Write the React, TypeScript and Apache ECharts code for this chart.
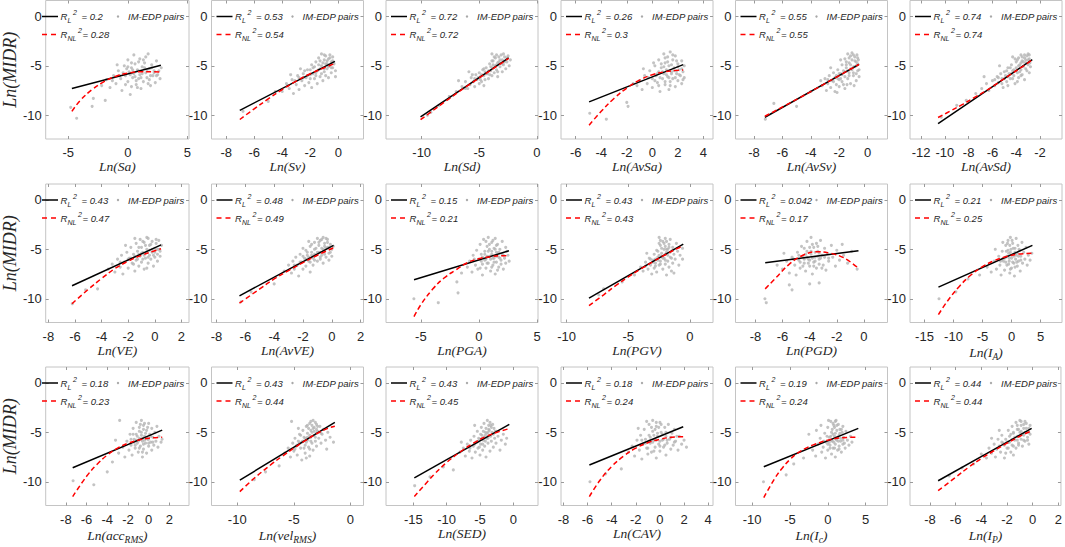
import React, { useEffect, useRef } from "react";
import * as echarts from "echarts";

// ---------- data ----------
const xNames: [string, string][] = [
  ["Sa", ""], ["Sv", ""], ["Sd", ""], ["AvSa", ""], ["AvSv", ""], ["AvSd", ""],
  ["VE", ""], ["AvVE", ""], ["PGA", ""], ["PGV", ""], ["PGD", ""], ["I", "A"],
  ["acc", "RMS"], ["vel", "RMS"], ["SED", ""], ["CAV", ""], ["I", "c"], ["I", "P"],
];
const yName = "Ln(MIDR)";
const rL2 = ["0.2", "0.53", "0.72", "0.26", "0.55", "0.74", "0.43", "0.48", "0.15", "0.43", "0.042", "0.21", "0.18", "0.43", "0.43", "0.18", "0.19", "0.44"];
const rNL2 = ["0.28", "0.54", "0.72", "0.3", "0.55", "0.74", "0.47", "0.49", "0.21", "0.43", "0.17", "0.25", "0.23", "0.44", "0.45", "0.24", "0.24", "0.44"];

const xTicks: number[][] = [
  [-5, 0, 5], [-8, -6, -4, -2, 0], [-10, -5, 0], [-6, -4, -2, 0, 2, 4], [-8, -6, -4, -2, 0], [-12, -10, -8, -6, -4, -2],
  [-8, -6, -4, -2, 0, 2], [-8, -6, -4, -2, 0, 2], [-5, 0, 5], [-10, -5, 0], [-8, -6, -4, -2, 0], [-15, -10, -5, 0, 5],
  [-8, -6, -4, -2, 0, 2], [-10, -5, 0], [-15, -10, -5, 0], [-8, -6, -4, -2, 0, 2, 4], [-10, -5, 0, 5], [-8, -6, -4, -2, 0, 2],
];
const xLims: [number, number][] = [
  [-6.9, 5.13], [-9.05, 1.8], [-13.1, 0.1], [-7.15, 4.75], [-9.3, 1.4], [-12.93, -0.15],
  [-8.2, 2.57], [-8.35, 2.2], [-8.0, 5.08], [-10.46, 1.87], [-9.47, 1.74], [-17.5, 8.7],
  [-9.95, 3.9], [-12.27, 1.15], [-19.1, 3.7], [-8.2, 4.4], [-12.2, 7.9], [-9.55, 2.2],
];
const yTicks = [-10, -5, 0];
const yLim: [number, number] = [-12.4, 1.6];

// linear fits (endpoints)
const linSa = [[-4.7, -7.3], [2.77, -4.95]];
const linSv = [[-7.03, -9.5], [-0.24, -4.55]];
const linSd = [[-10.1, -10.17], [-2.45, -4.2]];
const linAvSa = [[-4.95, -8.65], [2.42, -4.88]];
const linAvSv = [[-7.23, -10.2], [-0.6, -4.85]];
const linAvSd = [[-10.57, -10.85], [-2.65, -4.38]];
const linVE = [[-6.22, -8.69], [0.47, -4.55]];
const linAvVE = [[-6.41, -9.7], [0.12, -4.6]];
const linPGA = [[-5.59, -8.08], [2.58, -5.15]];
const linPGV = [[-8.19, -9.93], [-0.54, -4.48]];
const linPGD = [[-7.28, -6.35], [-0.4, -5.15]];
const linIA = [[-12.6, -8.82], [3.6, -4.6]];
const linAcc = [[-7.34, -8.59], [1.31, -4.78]];
const linVel = [[-9.77, -9.83], [-1.38, -4.0]];
const linSED = [[-14.85, -9.6], [-0.6, -4.2]];
const linCAV = [[-5.85, -8.3], [1.93, -4.44]];
const linIc = [[-8.46, -8.48], [4.04, -4.6]];
const linIP = [[-7.36, -9.9], [-0.08, -4.6]];

// nonlinear fits
const nlSa = [[-4.7, -9.6], [-4, -8.5], [-3, -7.4], [-2, -6.6], [-1, -6.05], [0, -5.75], [1, -5.6], [2, -5.6], [2.77, -5.65]];
const nlSv = [[-7.03, -10.43], [-6, -9.35], [-5, -8.35], [-4, -7.4], [-3, -6.55], [-2, -5.8], [-1, -5.2], [-0.3, -4.8]];
const nlSd = [[-10.1, -10.45], [-8, -8.65], [-6, -7.0], [-4, -5.45], [-2.45, -4.25]];
const nlAvSa = [[-4.95, -11.0], [-4, -9.6], [-3, -8.3], [-2, -7.25], [-1, -6.45], [0, -5.9], [1, -5.6], [2, -5.45], [2.42, -5.42]];
const nlAvSv = [[-7.23, -10.1], [-5, -8.4], [-3, -6.8], [-0.6, -4.85]];
const nlAvSd = [[-10.57, -10.23], [-9.5, -9.55], [-8.5, -8.9], [-7.5, -8.2], [-6.5, -7.5], [-5.5, -6.7], [-4.5, -5.9], [-3.5, -5.1], [-2.65, -4.4]];
const nlVE = [[-6.22, -10.5], [-5, -9.05], [-4, -7.95], [-3, -6.95], [-2, -6.2], [-1, -5.6], [0, -5.15], [0.47, -4.95]];
const nlAvVE = [[-6.41, -10.45], [-5, -9.0], [-4, -8.0], [-3, -7.15], [-2, -6.35], [-1, -5.6], [0.12, -4.85]];
const nlPGA = [[-5.59, -11.8], [-5, -10.6], [-4, -9.05], [-3, -7.9], [-2, -7.1], [-1, -6.35], [0, -5.95], [1, -5.75], [2, -5.65], [2.58, -5.68]];
const nlPGV = [[-8.19, -10.7], [-7, -9.6], [-6, -8.65], [-5, -7.8], [-4, -7.0], [-3, -6.25], [-2, -5.55], [-1, -4.9], [-0.54, -4.65]];
const nlPGD = [[-7.28, -9.0], [-6.5, -7.9], [-5.5, -6.5], [-4.5, -5.6], [-3.5, -5.25], [-2.5, -5.4], [-1.5, -5.85], [-0.5, -6.8]];
const nlIA = [[-12.6, -11.6], [-11, -10.2], [-9, -8.75], [-7, -7.6], [-5, -6.75], [-3, -6.15], [-1, -5.75], [1, -5.5], [3.6, -5.4]];
const nlAcc = [[-7.34, -11.5], [-6, -9.45], [-5, -8.25], [-4, -7.3], [-3, -6.6], [-2, -6.1], [-1, -5.8], [0, -5.6], [1.31, -5.5]];
const nlVel = [[-9.77, -11.0], [-8.5, -9.65], [-7, -8.25], [-6, -7.4], [-5, -6.6], [-4, -5.85], [-3, -5.15], [-2, -4.6], [-1.38, -4.38]];
const nlSED = [[-14.85, -11.5], [-12, -9.35], [-10, -8.05], [-8, -7.0], [-6, -6.1], [-4, -5.4], [-2, -4.9], [-0.7, -4.65]];
const nlCAV = [[-5.85, -11.5], [-5, -9.9], [-4, -8.45], [-3, -7.4], [-2, -6.6], [-1, -6.05], [0, -5.7], [1, -5.5], [1.93, -5.45]];
const nlIc = [[-8.46, -11.6], [-7, -9.65], [-6, -8.6], [-5, -7.75], [-4, -7.1], [-3, -6.65], [-2, -6.3], [0, -5.8], [2, -5.55], [4.04, -5.5]];
const nlIP = [[-7.36, -10.9], [-6, -9.55], [-5, -8.55], [-4, -7.65], [-3, -6.85], [-2, -6.1], [-1, -5.4], [-0.08, -4.85]];

// IM-EDP pairs (sampled from the clouds)
const ptsSa = [[-4.8,-9.2],[-4.3,-10.3],[-2.9,-8.3],[-3.0,-9.1],[-1.9,-8.5],[-2.2,-7.0],[-1.8,-6.4],[-1.5,-7.2],[-1.2,-6.0],[-1.0,-6.8],[-0.8,-5.5],[-0.6,-6.3],[-0.5,-7.5],[-0.3,-5.0],[-0.2,-6.0],[0,-4.4],[0,-6.6],[0.1,-5.6],[0.2,-7.9],[0.3,-5.2],[0.4,-6.2],[0.5,-3.9],[0.5,-5.8],[0.6,-4.8],[0.7,-6.9],[0.8,-5.4],[0.9,-6.3],[1.0,-4.3],[1.0,-5.9],[1.1,-7.3],[1.2,-5.1],[1.3,-6.6],[1.4,-4.7],[1.5,-5.7],[1.6,-6.2],[1.7,-3.8],[1.8,-5.3],[1.9,-7.0],[2.0,-4.9],[2.1,-6.0],[2.2,-5.5],[2.3,-6.7],[2.4,-4.5],[2.5,-5.9],[2.7,-6.3],[2.8,-5.2],[-0.9,-4.9],[0.3,-7.1],[1.5,-4.1],[-0.1,-5.3],
  [0.2,-5.9],[0.6,-6.1],[0.9,-5.5],[1.2,-5.8],[1.6,-5.4],[1.9,-6.0],[2.2,-5.7],[0.4,-5.4],[0.7,-6.5],[1.1,-6.2],[1.4,-5.2],[-0.4,-5.7],[-0.7,-6.0],[1.8,-6.4],[2.4,-6.0],[0.0,-5.1],[0.3,-4.7],[0.9,-4.6],[1.3,-4.4],[2.0,-5.2],[2.6,-5.5],[-1.3,-6.5],[-0.2,-6.9],[0.8,-7.2],[1.7,-6.8]];
const ptsSv = [[-6.8,-9.6],[-5.0,-8.6],[-4.5,-7.6],[-4.0,-7.6],[-3.7,-6.8],[-3.5,-7.3],[-3.3,-6.4],[-3.2,-7.8],[-3.0,-6.9],[-2.9,-6.0],[-2.8,-7.4],[-2.6,-6.5],[-2.5,-5.8],[-2.4,-7.0],[-2.3,-6.2],[-2.2,-5.4],[-2.1,-6.7],[-2.0,-5.9],[-1.9,-7.2],[-1.8,-5.2],[-1.7,-6.3],[-1.6,-4.6],[-1.6,-5.7],[-1.5,-6.8],[-1.4,-4.2],[-1.4,-5.4],[-1.3,-6.1],[-1.2,-3.8],[-1.2,-5.0],[-1.1,-6.5],[-1.0,-4.4],[-1.0,-5.6],[-0.9,-4.0],[-0.9,-6.0],[-0.8,-4.8],[-0.8,-5.3],[-0.7,-4.3],[-0.7,-6.2],[-0.6,-5.0],[-0.5,-4.6],[-0.5,-5.7],[-0.4,-4.1],[-0.4,-5.2],[-0.3,-4.8],[-0.2,-5.5],[-0.2,-6.1],[-2.7,-5.3],[-1.9,-4.9],[-3.4,-5.9],[-0.6,-3.9],
  [-2.5,-6.2],[-2.2,-6.0],[-2.0,-6.3],[-1.8,-5.8],[-1.6,-6.0],[-1.5,-5.5],[-1.3,-5.3],[-1.2,-5.8],[-1.0,-5.3],[-0.9,-4.8],[-0.7,-5.1],[-0.5,-5.2],[-0.8,-4.5],[-1.1,-4.7],[-1.4,-4.9],[-1.7,-5.1],[-2.4,-5.5],[-2.8,-6.2],[-3.1,-6.5],[-0.4,-4.5],[-0.6,-4.2],[-1.0,-3.9],[-1.3,-4.5],[-2.0,-5.4],[-3.6,-7.0]];
const ptsSd = [[-9.5,-10.0],[-9.2,-9.7],[-8.5,-9.0],[-7.6,-8.1],[-7.0,-7.6],[-6.5,-7.1],[-6.2,-6.6],[-6.0,-7.3],[-5.8,-6.9],[-5.7,-6.2],[-5.5,-6.6],[-5.4,-7.1],[-5.3,-5.9],[-5.2,-6.4],[-5.0,-6.8],[-5.0,-5.7],[-4.9,-6.1],[-4.8,-6.6],[-4.7,-5.4],[-4.6,-6.0],[-4.5,-6.4],[-4.4,-5.2],[-4.3,-5.8],[-4.2,-6.3],[-4.1,-4.8],[-4.0,-5.5],[-3.9,-6.0],[-3.8,-4.5],[-3.8,-5.2],[-3.7,-5.7],[-3.6,-4.2],[-3.5,-4.9],[-3.5,-5.4],[-3.4,-6.1],[-3.3,-4.6],[-3.2,-5.1],[-3.1,-3.9],[-3.0,-4.4],[-3.0,-5.6],[-2.9,-4.9],[-2.8,-4.1],[-2.7,-5.3],[-2.6,-4.6],[-2.5,-4.0],[-2.4,-5.0],[-2.3,-4.4],[-4.6,-7.0],[-3.9,-3.8],[-6.8,-6.5],[-5.9,-5.6],
  [-4.8,-5.9],[-4.5,-5.6],[-4.2,-5.5],[-4.0,-5.1],[-3.8,-4.9],[-3.6,-5.0],[-3.4,-4.7],[-3.2,-4.4],[-3.0,-4.8],[-2.8,-4.6],[-4.4,-5.8],[-5.1,-6.2],[-5.4,-6.3],[-4.6,-5.3],[-3.9,-4.5],[-3.3,-4.1],[-3.7,-4.1],[-2.6,-4.2],[-4.1,-5.9],[-4.9,-6.4],[-3.5,-3.9],[-2.9,-3.8],[-3.4,-5.6],[-5.6,-5.9],[-6.2,-7.3]];
const ptsAvSa = [[-4.9,-9.8],[-3.6,-10.4],[-1.9,-9.1],[-2.0,-8.7],[-1.5,-6.8],[-1.2,-7.0],[-1.0,-6.5],[-0.8,-7.4],[-0.6,-6.0],[-0.4,-6.8],[-0.2,-5.5],[0,-6.3],[0,-7.2],[0.2,-5.0],[0.3,-6.0],[0.4,-6.7],[0.5,-4.4],[0.5,-5.6],[0.6,-7.6],[0.7,-5.2],[0.8,-6.3],[0.9,-3.8],[0.9,-5.8],[1.0,-4.7],[1.0,-6.9],[1.1,-5.4],[1.2,-4.1],[1.2,-6.1],[1.3,-5.0],[1.4,-6.6],[1.4,-3.6],[1.5,-5.6],[1.6,-4.4],[1.6,-6.3],[1.7,-5.2],[1.8,-7.1],[1.8,-4.0],[1.9,-5.8],[2.0,-4.8],[2.0,-6.5],[2.1,-5.4],[2.2,-6.0],[2.3,-4.5],[2.3,-6.8],[2.4,-5.6],[2.5,-5.0],[2.5,-6.2],[0.1,-4.7],[-0.7,-5.3],[1.3,-7.4],
  [0.4,-5.8],[0.8,-5.6],[1.1,-5.9],[1.5,-5.8],[1.9,-5.5],[2.1,-5.9],[0.6,-6.2],[1.3,-6.2],[1.7,-5.5],[2.3,-5.3],[0.9,-5.1],[1.5,-4.9],[2.0,-5.1],[1.2,-4.6],[0.7,-4.8],[1.9,-4.5],[1.0,-4.2],[1.6,-3.9],[0.2,-6.5],[1.0,-6.6],[1.8,-6.2],[2.4,-6.4],[-0.3,-6.2],[0.5,-7.0],[1.4,-7.0]];
const ptsAvSv = [[-7.2,-10.4],[-6.6,-8.8],[-5.0,-9.1],[-4.0,-7.6],[-3.2,-7.0],[-3.0,-6.3],[-2.9,-7.5],[-2.8,-6.8],[-2.7,-6.0],[-2.6,-7.2],[-2.5,-6.5],[-2.4,-5.7],[-2.3,-7.6],[-2.3,-6.2],[-2.2,-6.9],[-2.1,-5.4],[-2.0,-6.4],[-2.0,-7.1],[-1.9,-5.8],[-1.8,-4.9],[-1.8,-6.6],[-1.7,-5.5],[-1.6,-6.1],[-1.6,-7.3],[-1.5,-4.6],[-1.5,-5.2],[-1.4,-6.3],[-1.3,-4.2],[-1.3,-5.7],[-1.2,-6.8],[-1.2,-4.9],[-1.1,-5.4],[-1.0,-3.9],[-1.0,-6.0],[-0.9,-4.5],[-0.9,-5.1],[-0.8,-5.8],[-0.8,-6.5],[-0.7,-4.2],[-0.7,-4.8],[-0.6,-5.4],[-0.6,-6.1],[-2.6,-5.2],[-1.9,-4.4],[-1.1,-3.7],[-3.3,-6.5],[-0.75,-3.9],[-1.45,-6.9],[-2.15,-7.7],[-0.95,-7.0],
  [-2.2,-6.0],[-2.0,-5.8],[-1.8,-5.9],[-1.6,-5.6],[-1.4,-5.5],[-1.2,-5.3],[-1.0,-5.1],[-0.8,-5.0],[-1.5,-4.9],[-1.3,-4.7],[-1.1,-4.4],[-0.9,-4.1],[-0.8,-4.6],[-2.4,-6.6],[-1.9,-6.3],[-1.7,-6.9],[-1.3,-6.0],[-1.0,-5.7],[-0.7,-5.5],[-2.1,-6.3],[-2.8,-6.4],[-1.6,-4.3],[-1.2,-4.0],[-0.65,-4.4],[-1.4,-3.8]];
const ptsAvSd = [[-10.3,-10.2],[-9.0,-9.0],[-8.2,-8.5],[-7.4,-7.8],[-6.9,-7.3],[-6.5,-6.8],[-6.3,-7.5],[-6.0,-6.5],[-5.8,-7.0],[-5.6,-6.1],[-5.5,-6.7],[-5.3,-5.8],[-5.2,-6.3],[-5.1,-7.2],[-5.0,-5.6],[-4.9,-6.0],[-4.8,-6.6],[-4.7,-5.2],[-4.6,-5.8],[-4.5,-6.3],[-4.4,-4.9],[-4.3,-5.5],[-4.2,-6.0],[-4.1,-6.8],[-4.0,-4.6],[-4.0,-5.2],[-3.9,-5.7],[-3.8,-4.2],[-3.8,-6.2],[-3.7,-4.9],[-3.6,-5.4],[-3.6,-3.9],[-3.5,-4.5],[-3.5,-5.9],[-3.4,-5.1],[-3.3,-4.2],[-3.3,-6.4],[-3.2,-4.7],[-3.1,-5.5],[-3.0,-3.8],[-3.0,-4.9],[-2.9,-4.3],[-2.9,-5.7],[-2.8,-5.1],[-4.3,-4.1],[-5.4,-5.0],[-6.7,-6.1],[-4.7,-7.0],[-3.9,-6.6],[-3.1,-4.0],
  [-5.0,-6.3],[-4.7,-6.1],[-4.4,-5.8],[-4.2,-5.4],[-4.0,-5.5],[-3.8,-5.0],[-3.6,-4.7],[-3.4,-4.6],[-3.2,-4.4],[-3.0,-4.4],[-3.7,-5.6],[-4.5,-5.2],[-3.9,-4.4],[-3.3,-3.9],[-2.9,-3.9],[-3.5,-4.1],[-4.1,-4.3],[-4.8,-5.5],[-5.5,-6.2],[-5.2,-6.8],[-4.3,-6.3],[-3.6,-6.0],[-3.2,-5.3],[-2.85,-4.7],[-5.8,-6.4]];
const ptsVE = [[-6.2,-10.5],[-5.2,-9.1],[-4.3,-9.0],[-3.5,-7.0],[-3.2,-6.5],[-3.0,-7.3],[-2.8,-6.0],[-2.6,-6.8],[-2.5,-5.6],[-2.4,-7.5],[-2.3,-6.3],[-2.1,-5.3],[-2.0,-6.9],[-1.9,-5.9],[-1.8,-4.8],[-1.7,-6.4],[-1.6,-5.5],[-1.5,-7.2],[-1.4,-4.4],[-1.4,-6.1],[-1.3,-5.2],[-1.2,-6.7],[-1.1,-4.0],[-1.1,-5.7],[-1.0,-4.8],[-1.0,-6.3],[-0.9,-5.3],[-0.8,-7.0],[-0.8,-4.3],[-0.7,-5.9],[-0.6,-3.8],[-0.6,-5.0],[-0.5,-6.4],[-0.4,-4.6],[-0.4,-5.6],[-0.3,-6.0],[-0.2,-4.2],[-0.2,-5.3],[-0.1,-6.7],[0,-4.9],[0,-5.8],[0.1,-4.4],[0.2,-5.5],[0.2,-6.2],[0.3,-4.1],[0.3,-5.0],[0.4,-5.7],[0.5,-4.6],[-2.2,-4.6],[-1.5,-3.9],
  [-1.8,-5.9],[-1.5,-5.7],[-1.2,-5.5],[-1.0,-5.4],[-0.8,-5.6],[-0.6,-5.3],[-0.4,-5.1],[-0.2,-5.0],[0,-5.3],[0.2,-5.0],[-1.3,-6.0],[-0.9,-6.0],[-0.5,-5.8],[-0.1,-5.6],[-1.6,-6.5],[-0.7,-4.6],[-0.3,-4.5],[0.1,-4.0],[-0.9,-4.2],[-1.2,-4.8],[-0.5,-3.9],[0.4,-5.2],[-2.6,-6.3],[-2.0,-6.0],[-0.6,-6.9]];
const ptsAvVE = [[-6.3,-10.3],[-5.6,-9.3],[-4.0,-8.5],[-3.3,-7.2],[-3.0,-6.6],[-2.8,-7.4],[-2.7,-6.2],[-2.6,-7.0],[-2.5,-5.8],[-2.4,-6.6],[-2.3,-7.7],[-2.2,-5.5],[-2.1,-6.3],[-2.0,-7.0],[-1.9,-5.9],[-1.8,-5.1],[-1.8,-6.7],[-1.7,-5.6],[-1.6,-6.2],[-1.5,-4.7],[-1.5,-7.3],[-1.4,-5.3],[-1.3,-5.9],[-1.3,-6.6],[-1.2,-4.3],[-1.2,-5.0],[-1.1,-5.6],[-1.0,-6.2],[-1.0,-3.9],[-0.9,-4.6],[-0.9,-5.3],[-0.8,-6.0],[-0.8,-4.1],[-0.7,-4.9],[-0.7,-5.6],[-0.6,-3.8],[-0.6,-6.4],[-0.5,-4.4],[-0.5,-5.2],[-0.4,-5.8],[-0.3,-4.0],[-0.3,-4.8],[-0.2,-5.4],[-0.2,-6.1],[-0.1,-4.5],[0,-5.0],[0,-5.7],[0.1,-4.7],[-1.6,-4.2],[-2.0,-4.9],
  [-1.8,-6.0],[-1.6,-5.8],[-1.4,-5.6],[-1.2,-5.5],[-1.0,-5.3],[-0.8,-5.3],[-0.6,-5.0],[-0.4,-4.9],[-0.2,-4.8],[-1.1,-4.9],[-0.9,-4.3],[-0.5,-4.7],[-0.3,-4.3],[-0.7,-4.0],[-0.4,-3.9],[-1.5,-6.3],[-1.2,-6.1],[-0.8,-5.8],[-0.5,-5.5],[-2.2,-6.3],[-2.0,-5.7],[-1.7,-5.3],[-0.1,-5.3],[-1.4,-4.5],[-2.6,-6.6]];
const ptsPGA = [[-5.6,-10.0],[-3.5,-10.4],[-1.9,-8.3],[-1.5,-7.4],[-1.8,-9.4],[-1.0,-6.8],[-0.8,-6.2],[-0.6,-7.3],[-0.5,-5.6],[-0.3,-6.6],[-0.2,-5.1],[-0.1,-7.0],[0,-6.0],[0.1,-4.5],[0.2,-5.5],[0.3,-6.5],[0.3,-7.6],[0.4,-4.0],[0.5,-5.2],[0.5,-6.1],[0.6,-6.9],[0.7,-4.7],[0.7,-5.7],[0.8,-3.8],[0.8,-6.4],[0.9,-5.0],[1.0,-6.0],[1.0,-7.2],[1.1,-4.3],[1.1,-5.5],[1.2,-6.6],[1.3,-4.9],[1.3,-5.9],[1.4,-3.9],[1.4,-7.5],[1.5,-5.3],[1.5,-6.3],[1.6,-4.5],[1.7,-5.8],[1.7,-6.8],[1.8,-5.0],[1.9,-6.1],[2.0,-4.2],[2.0,-5.5],[2.1,-7.0],[2.2,-5.9],[2.3,-4.8],[2.3,-6.4],[2.5,-5.6],[2.6,-6.2],
  [0.3,-5.8],[0.6,-6.0],[0.9,-5.7],[1.2,-5.9],[1.5,-5.7],[1.8,-5.9],[2.1,-5.6],[0.5,-5.5],[0.8,-5.2],[1.1,-5.2],[1.4,-5.0],[1.7,-5.3],[0.2,-6.2],[0.7,-6.4],[1.3,-6.3],[1.9,-6.5],[0.9,-4.5],[1.2,-4.1],[0.6,-4.2],[1.5,-4.6],[2.4,-5.2],[-0.4,-6.0],[0.1,-6.9],[1.1,-6.8],[1.6,-7.1]];
const ptsPGV = [[-7.0,-9.0],[-7.4,-9.6],[-5.5,-8.3],[-4.5,-7.6],[-4.0,-6.8],[-3.8,-7.2],[-3.6,-6.3],[-3.4,-7.0],[-3.3,-5.9],[-3.2,-6.6],[-3.1,-7.5],[-3.0,-6.1],[-2.9,-5.5],[-2.9,-6.9],[-2.8,-6.4],[-2.7,-5.1],[-2.7,-7.3],[-2.6,-5.8],[-2.5,-6.6],[-2.4,-4.6],[-2.4,-6.2],[-2.3,-5.4],[-2.2,-7.0],[-2.2,-4.2],[-2.1,-5.9],[-2.0,-6.5],[-2.0,-3.9],[-1.9,-5.0],[-1.9,-7.6],[-1.8,-5.6],[-1.8,-6.2],[-1.7,-4.5],[-1.7,-6.8],[-1.6,-5.3],[-1.6,-4.0],[-1.5,-5.9],[-1.5,-7.2],[-1.4,-4.8],[-1.4,-6.4],[-1.3,-5.5],[-1.2,-6.0],[-1.1,-4.4],[-1.0,-5.2],[-0.9,-6.6],[-0.8,-5.6],[-0.6,-6.0],[-0.6,-4.9],[-2.5,-3.8],[-3.5,-5.4],[-1.3,-7.4],
  [-3.0,-6.3],[-2.8,-6.0],[-2.6,-6.1],[-2.5,-5.6],[-2.3,-5.7],[-2.2,-5.9],[-2.0,-5.5],[-1.9,-5.3],[-1.8,-5.0],[-2.1,-5.0],[-2.3,-4.9],[-2.1,-4.4],[-1.9,-4.2],[-2.4,-4.1],[-2.0,-4.7],[-2.6,-5.2],[-3.2,-6.0],[-2.8,-6.7],[-2.4,-6.5],[-2.0,-6.1],[-1.6,-5.8],[-1.4,-5.1],[-1.7,-4.8],[-2.5,-4.4],[-3.6,-6.7]];
const ptsPGD = [[-7.3,-10.0],[-7.2,-10.4],[-5.5,-8.6],[-5.3,-9.1],[-4.0,-8.5],[-3.3,-8.4],[-6.0,-7.0],[-5.7,-6.2],[-5.5,-7.4],[-5.3,-5.8],[-5.1,-6.6],[-5.0,-7.6],[-4.9,-5.3],[-4.8,-6.1],[-4.7,-6.9],[-4.6,-4.7],[-4.5,-5.7],[-4.4,-6.4],[-4.3,-7.2],[-4.2,-4.2],[-4.2,-5.2],[-4.1,-6.0],[-4.0,-6.7],[-3.9,-3.8],[-3.9,-5.5],[-3.8,-7.5],[-3.7,-4.8],[-3.7,-6.3],[-3.6,-5.8],[-3.5,-4.4],[-3.5,-6.9],[-3.4,-5.2],[-3.3,-6.0],[-3.2,-4.1],[-3.1,-5.6],[-3.0,-6.6],[-2.9,-4.9],[-2.8,-7.1],[-2.7,-5.4],[-2.6,-6.2],[-2.4,-4.6],[-2.3,-5.8],[-2.1,-6.7],[-2.0,-5.1],[-1.8,-6.1],[-1.6,-4.5],[-1.5,-5.6],[-1.2,-6.4],[-0.9,-5.2],[-0.5,-7.0],[-6.4,-6.6],[-5.9,-5.4],
  [-4.4,-6.0],[-4.2,-5.8],[-4.0,-6.1],[-3.8,-5.9],[-3.6,-6.2],[-3.4,-5.7],[-3.2,-5.9],[-4.3,-5.5],[-3.9,-5.2],[-3.6,-5.3],[-3.3,-5.4],[-4.7,-6.3],[-4.5,-6.7],[-4.1,-6.4],[-3.7,-6.7],[-3.3,-6.5],[-3.8,-4.5],[-4.0,-4.8],[-4.4,-4.9],[-3.4,-4.7],[-5.2,-6.0],[-2.9,-5.8],[-2.6,-5.9],[-4.8,-5.6],[-3.1,-6.9]];
const ptsIA = [[-12.5,-10.0],[-9.6,-9.3],[-7.5,-8.0],[-5.5,-7.6],[-4.2,-6.8],[-3.5,-7.3],[-3.0,-6.2],[-2.6,-7.0],[-2.2,-5.7],[-2.0,-6.6],[-1.8,-7.6],[-1.6,-5.2],[-1.4,-6.2],[-1.2,-7.1],[-1.0,-4.6],[-1.0,-5.8],[-0.8,-6.6],[-0.6,-4.1],[-0.5,-5.4],[-0.4,-6.2],[-0.3,-7.4],[-0.2,-3.8],[-0.1,-5.0],[0,-5.9],[0,-6.9],[0.2,-4.4],[0.3,-5.5],[0.4,-6.4],[0.5,-7.7],[0.6,-4.9],[0.7,-6.0],[0.8,-3.9],[0.9,-5.4],[1.0,-6.7],[1.1,-4.6],[1.2,-6.2],[1.4,-5.1],[1.5,-7.2],[1.6,-5.7],[1.8,-4.3],[1.9,-6.4],[2.1,-5.3],[2.3,-6.0],[2.5,-4.8],[2.7,-6.6],[2.9,-5.6],[3.2,-6.1],[3.5,-5.4],[-2.8,-5.0],[-1.5,-4.3],
  [-1.6,-6.0],[-1.2,-5.9],[-0.8,-5.7],[-0.4,-5.9],[0,-5.6],[0.4,-5.7],[0.8,-5.6],[1.2,-5.7],[-1.0,-6.3],[-0.5,-6.5],[0.2,-6.3],[0.9,-6.3],[-0.6,-5.1],[-0.2,-5.3],[0.3,-4.9],[0.6,-5.3],[-0.3,-4.6],[0.1,-4.1],[-0.9,-5.2],[1.3,-5.0],[-1.9,-6.2],[-0.2,-7.0],[0.6,-6.8],[1.6,-6.1],[-0.7,-4.4]];
const ptsAcc = [[-7.3,-9.9],[-5.3,-10.3],[-4.0,-9.0],[-3.5,-8.0],[-2.9,-7.1],[-2.5,-6.5],[-2.3,-7.5],[-2.1,-5.9],[-1.9,-6.8],[-1.8,-5.2],[-1.7,-6.3],[-1.6,-7.3],[-1.5,-4.6],[-1.4,-5.7],[-1.3,-6.6],[-1.2,-4.0],[-1.2,-5.2],[-1.1,-6.1],[-1.0,-7.0],[-0.9,-4.5],[-0.9,-5.6],[-0.8,-6.4],[-0.7,-3.8],[-0.7,-5.0],[-0.6,-5.9],[-0.6,-7.5],[-0.5,-4.3],[-0.5,-6.7],[-0.4,-5.4],[-0.3,-6.1],[-0.2,-4.8],[-0.2,-7.1],[-0.1,-5.7],[0,-4.1],[0,-6.4],[0.1,-5.2],[0.2,-6.0],[0.3,-4.6],[0.3,-6.8],[0.4,-5.5],[0.5,-6.3],[0.6,-5.0],[0.7,-5.9],[0.8,-4.4],[0.9,-6.5],[1.0,-5.4],[1.2,-6.0],[1.3,-5.7],[-2.8,-3.8],[-3.2,-5.8],
  [-1.4,-6.0],[-1.2,-5.8],[-1.0,-5.9],[-0.8,-5.7],[-0.6,-5.6],[-0.4,-5.8],[-0.2,-5.5],[0,-5.7],[0.2,-5.4],[-1.1,-5.4],[-0.7,-5.3],[-0.3,-5.1],[-0.9,-4.9],[-0.5,-4.7],[-0.4,-4.1],[-0.8,-4.2],[-1.3,-6.3],[-0.9,-6.6],[-0.5,-6.2],[0.0,-6.1],[0.4,-6.0],[-1.7,-5.7],[-0.1,-4.5],[-1.5,-5.2],[-0.6,-7.0]];
const ptsVel = [[-8.5,-9.8],[-7.5,-9.0],[-6.3,-8.4],[-5.8,-7.1],[-5.5,-6.6],[-5.3,-7.5],[-5.1,-6.1],[-5.0,-6.9],[-4.9,-5.6],[-4.8,-6.4],[-4.7,-7.3],[-4.6,-5.9],[-4.5,-5.2],[-4.4,-6.6],[-4.3,-7.8],[-4.3,-6.0],[-4.2,-4.8],[-4.1,-5.5],[-4.0,-6.3],[-4.0,-7.1],[-3.9,-4.4],[-3.8,-5.1],[-3.8,-5.8],[-3.7,-6.5],[-3.6,-4.1],[-3.6,-7.4],[-3.5,-4.8],[-3.5,-5.5],[-3.4,-6.1],[-3.3,-3.8],[-3.3,-6.8],[-3.2,-4.5],[-3.2,-5.3],[-3.1,-5.9],[-3.0,-4.2],[-3.0,-6.4],[-2.9,-4.9],[-2.8,-5.6],[-2.7,-4.4],[-2.6,-6.1],[-2.5,-5.2],[-2.4,-4.7],[-2.2,-5.8],[-2.1,-6.7],[-2.0,-5.0],[-1.8,-5.5],[-1.5,-6.0],[-5.2,-3.9],[-4.6,-4.6],[-3.9,-7.6],
  [-4.5,-6.1],[-4.2,-5.9],[-4.0,-5.6],[-3.8,-5.5],[-3.6,-5.3],[-3.4,-5.0],[-3.2,-4.9],[-3.0,-4.7],[-3.7,-4.6],[-3.4,-4.3],[-3.1,-4.0],[-3.5,-3.9],[-2.9,-4.4],[-4.4,-5.3],[-4.1,-6.6],[-3.9,-6.0],[-3.5,-5.9],[-3.1,-5.5],[-4.7,-6.3],[-3.3,-4.6],[-3.8,-4.3],[-2.6,-5.1],[-4.9,-6.7],[-3.0,-5.1],[-3.6,-6.7]];
const ptsSED = [[-14.8,-10.4],[-12.5,-9.5],[-10.5,-8.5],[-9.0,-8.8],[-8.0,-7.0],[-7.5,-6.6],[-7.2,-7.4],[-6.9,-6.2],[-6.6,-6.9],[-6.4,-5.8],[-6.2,-7.6],[-6.0,-6.4],[-5.9,-5.4],[-5.7,-7.0],[-5.6,-6.0],[-5.4,-4.9],[-5.3,-6.6],[-5.2,-5.6],[-5.0,-7.3],[-4.9,-6.2],[-4.8,-4.5],[-4.7,-5.3],[-4.6,-6.8],[-4.5,-5.8],[-4.4,-4.1],[-4.3,-6.4],[-4.2,-5.0],[-4.1,-7.5],[-4.0,-5.6],[-3.9,-3.8],[-3.8,-6.1],[-3.7,-4.7],[-3.6,-5.3],[-3.5,-6.9],[-3.4,-4.3],[-3.3,-5.9],[-3.2,-5.0],[-3.0,-6.5],[-2.9,-4.6],[-2.8,-5.6],[-2.6,-6.1],[-2.5,-4.9],[-2.3,-5.4],[-2.0,-6.8],[-1.8,-5.8],[-1.5,-5.2],[-1.2,-6.2],[-1.0,-5.6],[-5.8,-4.3],[-7.8,-6.0],
  [-5.8,-6.2],[-5.5,-6.0],[-5.2,-5.9],[-5.0,-5.7],[-4.7,-5.6],[-4.4,-5.5],[-4.2,-5.3],[-4.0,-5.1],[-3.8,-5.0],[-3.6,-4.8],[-3.3,-4.5],[-4.5,-4.9],[-4.1,-4.6],[-3.7,-4.3],[-3.5,-4.0],[-3.1,-4.2],[-5.1,-6.5],[-4.6,-6.2],[-4.2,-5.9],[-3.8,-5.6],[-3.4,-5.4],[-3.0,-5.2],[-6.5,-6.6],[-4.9,-5.2],[-2.7,-4.9]];
const ptsCAV = [[-5.8,-10.0],[-4.5,-9.2],[-3.2,-8.7],[-2.6,-7.0],[-2.3,-6.4],[-2.1,-7.4],[-1.9,-5.8],[-1.7,-6.8],[-1.6,-5.3],[-1.5,-7.7],[-1.4,-6.2],[-1.3,-4.7],[-1.2,-5.7],[-1.1,-6.6],[-1.0,-7.2],[-0.9,-4.2],[-0.9,-5.3],[-0.8,-6.1],[-0.7,-7.0],[-0.6,-3.8],[-0.6,-4.9],[-0.5,-5.8],[-0.4,-6.5],[-0.3,-4.4],[-0.3,-7.6],[-0.2,-5.4],[-0.1,-6.2],[0,-4.0],[0,-6.9],[0.1,-5.0],[0.2,-5.8],[0.3,-6.5],[0.4,-4.5],[0.5,-5.4],[0.5,-7.3],[0.6,-6.1],[0.7,-4.2],[0.8,-5.7],[0.9,-6.7],[1.0,-5.1],[1.1,-6.3],[1.2,-4.7],[1.3,-5.9],[1.5,-6.8],[1.6,-5.4],[1.8,-6.2],[2.0,-5.8],[-1.8,-4.6],[-1.1,-3.9],[2.2,-6.5],
  [-1.2,-6.1],[-0.9,-5.9],[-0.6,-6.0],[-0.3,-5.8],[0,-5.9],[0.3,-5.7],[0.6,-5.8],[0.9,-5.5],[-0.8,-5.5],[-0.5,-5.3],[-0.2,-5.1],[0.2,-5.2],[0.5,-5.0],[-0.4,-4.7],[-0.1,-4.5],[-0.3,-4.0],[0.1,-4.2],[-1.0,-6.6],[-0.5,-6.9],[0,-6.4],[0.4,-6.3],[1.2,-6.0],[-1.5,-5.8],[-0.7,-4.5],[1.4,-5.4]];
const ptsIc = [[-8.5,-10.0],[-5.5,-9.3],[-4.5,-8.2],[-3.2,-7.6],[-2.0,-6.8],[-1.6,-7.4],[-1.3,-6.2],[-1.0,-5.6],[-0.8,-7.0],[-0.6,-6.5],[-0.4,-5.1],[-0.3,-7.6],[-0.2,-6.0],[0,-4.5],[0,-6.8],[0.2,-5.5],[0.3,-6.3],[0.4,-3.9],[0.5,-5.0],[0.5,-7.2],[0.6,-5.9],[0.7,-6.6],[0.8,-4.3],[0.9,-5.4],[1.0,-6.2],[1.0,-7.5],[1.1,-3.8],[1.2,-4.8],[1.2,-5.8],[1.3,-6.8],[1.4,-4.2],[1.5,-5.3],[1.5,-6.4],[1.6,-4.7],[1.7,-5.9],[1.8,-7.0],[1.9,-5.0],[2.0,-4.4],[2.0,-6.2],[2.1,-5.5],[2.3,-6.6],[2.4,-4.9],[2.6,-5.8],[2.8,-6.3],[3.0,-5.4],[-2.5,-5.2],[-1.5,-4.8],[0.1,-3.8],[-0.9,-4.3],[3.2,-6.0],
  [0.2,-6.0],[0.5,-5.8],[0.8,-6.0],[1.1,-5.7],[1.4,-5.9],[1.7,-5.6],[0.4,-5.4],[0.7,-5.2],[1.0,-5.1],[1.3,-5.5],[1.6,-5.1],[0.6,-4.7],[0.9,-4.5],[1.2,-4.3],[0.7,-4.1],[1.0,-3.9],[0.3,-6.6],[0.9,-6.6],[1.5,-6.7],[2.0,-5.8],[-0.5,-5.9],[-0.1,-5.4],[2.2,-6.1],[1.8,-4.7],[0.0,-6.2]];
const ptsIP = [[-6.5,-9.4],[-5.5,-8.6],[-4.6,-8.2],[-4.0,-7.2],[-3.6,-7.6],[-3.4,-6.6],[-3.2,-7.1],[-3.0,-6.2],[-2.9,-7.5],[-2.8,-6.7],[-2.7,-5.7],[-2.6,-6.4],[-2.5,-7.0],[-2.4,-5.3],[-2.3,-6.1],[-2.2,-7.6],[-2.1,-5.7],[-2.0,-6.6],[-1.9,-4.8],[-1.9,-6.0],[-1.8,-5.4],[-1.7,-7.0],[-1.6,-4.4],[-1.6,-6.3],[-1.5,-5.1],[-1.4,-5.8],[-1.3,-4.0],[-1.3,-6.6],[-1.2,-4.7],[-1.2,-5.4],[-1.1,-6.1],[-1.0,-3.8],[-1.0,-5.0],[-0.9,-5.7],[-0.9,-4.3],[-0.8,-6.4],[-0.7,-4.6],[-0.7,-5.3],[-0.6,-5.9],[-0.5,-4.1],[-0.5,-5.0],[-0.4,-5.5],[-0.3,-4.6],[-0.3,-6.2],[-0.2,-5.2],[-0.2,-4.3],[-2.6,-4.8],[-3.2,-5.6],[-1.5,-7.3],[-0.6,-3.9],
  [-2.2,-6.3],[-2.0,-6.0],[-1.8,-6.0],[-1.6,-5.7],[-1.4,-5.5],[-1.2,-5.8],[-1.0,-5.4],[-0.8,-5.2],[-0.6,-5.0],[-1.5,-5.0],[-1.1,-4.7],[-0.9,-4.9],[-0.7,-4.2],[-1.2,-4.3],[-0.5,-4.6],[-0.9,-3.9],[-1.9,-6.6],[-1.5,-6.4],[-1.1,-6.3],[-0.7,-5.8],[-0.4,-5.8],[-2.4,-6.0],[-0.3,-5.0],[-1.7,-5.2],[-2.1,-7.1]];

const linFits = [linSa, linSv, linSd, linAvSa, linAvSv, linAvSd, linVE, linAvVE, linPGA, linPGV, linPGD, linIA, linAcc, linVel, linSED, linCAV, linIc, linIP];
const nlFits = [nlSa, nlSv, nlSd, nlAvSa, nlAvSv, nlAvSd, nlVE, nlAvVE, nlPGA, nlPGV, nlPGD, nlIA, nlAcc, nlVel, nlSED, nlCAV, nlIc, nlIP];
const clouds = [ptsSa, ptsSv, ptsSd, ptsAvSa, ptsAvSv, ptsAvSd, ptsVE, ptsAvVE, ptsPGA, ptsPGV, ptsPGD, ptsIA, ptsAcc, ptsVel, ptsSED, ptsCAV, ptsIc, ptsIP];

// ---------- layout ----------
const colLeft = [37, 211.5, 386, 561, 735.5, 910];
const rowTop = [0.5, 184, 367];
const W = 152;
const H = 138.5;
const SANS = '"Liberation Sans", Arial, sans-serif';
const SERIF = '"Liberation Serif", "Times New Roman", serif';
const TXT = "#262626";
const BOX = "#c4c4c4";

function buildOption() {
  const grid: any[] = [];
  const xAxis: any[] = [];
  const yAxis: any[] = [];
  const series: any[] = [];
  const graphic: any[] = [];
  const nameRich = {
    a: { fontFamily: SERIF, fontStyle: "italic", fontSize: 13.5, color: TXT },
    b: { fontFamily: SERIF, fontStyle: "italic", fontSize: 9.5, color: TXT, padding: [9, 0, 0, 0] },
  };
  const hiddenLine = { show: false, onZero: false };
  for (let i = 0; i < 18; i++) {
    const r = Math.floor(i / 6);
    const c = i % 6;
    const L = colLeft[c];
    const T = rowTop[r];
    grid.push({ left: L, top: T, width: W, height: H, show: true, borderColor: BOX, borderWidth: 1, backgroundColor: "#fff" });
    const [nm, sub] = xNames[i];
    const name = sub ? `{a|Ln(${nm}}{b|${sub}}{a|)}` : `{a|Ln(${nm})}`;
    const tickStyle = { inside: true, length: 3, lineStyle: { color: "#9a9a9a", width: 1 } };
    xAxis.push({
      type: "value", gridIndex: i, position: "bottom", min: xLims[i][0], max: xLims[i][1],
      axisLine: hiddenLine, splitLine: { show: false },
      axisTick: { ...tickStyle, customValues: xTicks[i] },
      axisLabel: { customValues: xTicks[i], fontSize: 13, color: TXT, fontFamily: SANS, margin: 7, formatter: (v: number) => String(v) },
      name, nameLocation: "middle", nameGap: 20,
      nameTextStyle: { fontFamily: SERIF, fontStyle: "italic", fontSize: 13.5, color: TXT, rich: nameRich },
    });
    xAxis.push({
      type: "value", gridIndex: i, position: "top", min: xLims[i][0], max: xLims[i][1],
      axisLine: hiddenLine, splitLine: { show: false }, axisLabel: { show: false },
      axisTick: { ...tickStyle, customValues: xTicks[i] },
    });
    yAxis.push({
      type: "value", gridIndex: i, position: "left", min: yLim[0], max: yLim[1],
      axisLine: hiddenLine, splitLine: { show: false },
      axisTick: { ...tickStyle, customValues: yTicks },
      axisLabel: { customValues: yTicks, fontSize: 13, color: TXT, fontFamily: SANS, margin: 4, formatter: (v: number) => String(v) },
      ...(c === 0
        ? { name: yName, nameLocation: "middle", nameGap: 17, nameTextStyle: { fontFamily: SERIF, fontStyle: "italic", fontSize: 18, color: TXT } }
        : {}),
    });
    yAxis.push({
      type: "value", gridIndex: i, position: "right", min: yLim[0], max: yLim[1],
      axisLine: hiddenLine, splitLine: { show: false }, axisLabel: { show: false },
      axisTick: { ...tickStyle, customValues: yTicks },
    });
    series.push({
      type: "scatter", xAxisIndex: 2 * i, yAxisIndex: 2 * i, data: clouds[i],
      symbol: "circle", symbolSize: 3.1, itemStyle: { color: "#b4b4b4" }, silent: true, z: 2,
    });
    series.push({
      type: "line", xAxisIndex: 2 * i, yAxisIndex: 2 * i, data: linFits[i], showSymbol: false, symbol: "none",
      lineStyle: { color: "#000", width: 1.5 }, silent: true, z: 3,
    });
    series.push({
      type: "line", xAxisIndex: 2 * i, yAxisIndex: 2 * i, data: nlFits[i], showSymbol: false, symbol: "none", smooth: 0.4,
      lineStyle: { color: "#ff0000", width: 1.5, type: [5, 3] }, silent: true, z: 4,
    });

    // legend
    const y1 = T + 16;
    const y2 = T + 34;
    const t = (text: string, x: number, y: number, size = 9.5) => ({
      type: "text", silent: true, z: 10,
      style: { text, x, y, fontSize: size, fontStyle: "italic", fontFamily: SANS, fill: TXT, verticalAlign: "middle", align: "left" },
    });
    graphic.push({ type: "line", silent: true, z: 10, shape: { x1: L + 5, y1, x2: L + 21, y2: y1 }, style: { stroke: "#000", lineWidth: 1.5 } });
    graphic.push(t("R", L + 23.5, y1));
    graphic.push(t("L", L + 30.5, y1 + 4, 7));
    graphic.push(t("2", L + 36, y1 - 4, 7));
    graphic.push(t("= " + rL2[i], L + 44.5, y1));
    graphic.push({ type: "circle", silent: true, z: 10, shape: { cx: L + 81, cy: y1, r: 1.2 }, style: { fill: "#a8a8a8" } });
    graphic.push(t("IM-EDP pairs", L + 91, y1));
    graphic.push({ type: "line", silent: true, z: 10, shape: { x1: L + 5, y1: y2, x2: L + 19, y2 }, style: { stroke: "#ff0000", lineWidth: 1.5, lineDash: [5, 4] } });
    graphic.push(t("R", L + 23.5, y2));
    graphic.push(t("NL", L + 30.5, y2 + 4, 7));
    graphic.push(t("2", L + 41, y2 - 4, 7));
    graphic.push(t("= " + rNL2[i], L + 45.5, y2));
  }
  return { animation: false, backgroundColor: "#fff", grid, xAxis, yAxis, series, graphic };
}

export default function App() {
  const ref = useRef<HTMLDivElement>(null);
  useEffect(() => {
    if (!ref.current) return;
    const chart = echarts.init(ref.current, undefined, { renderer: "svg" });
    chart.setOption(buildOption() as any);
    return () => chart.dispose();
  }, []);
  return <div ref={ref} style={{ position: "fixed", left: 0, top: 0, width: 1065, height: 547, background: "#fff" }} />;
}
